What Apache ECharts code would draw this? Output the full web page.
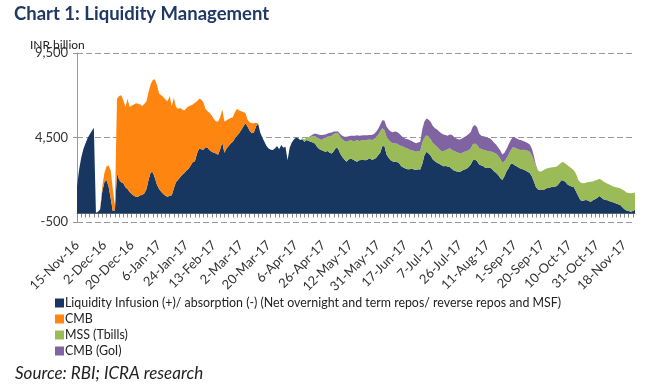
<!DOCTYPE html>
<html>
<head>
<meta charset="utf-8">
<script src="https://cdn.jsdelivr.net/npm/echarts@6/dist/echarts.min.js"></script>
<style>
html,body{margin:0;padding:0;background:#fff;}
#c{width:653px;height:390px;}
</style>
</head>
<body>
<div id="c"></div>
<script>
// Tick labels shown on the category axis (one every 13 observations)
var dateLabels = ['15-Nov-16','2-Dec-16','20-Dec-16','6-Jan-17','24-Jan-17','13-Feb-17','2-Mar-17','20-Mar-17','6-Apr-17','26-Apr-17','12-May-17','31-May-17','17-Jun-17','7-Jul-17','26-Jul-17','11-Aug-17','1-Sep-17','20-Sep-17','10-Oct-17','31-Oct-17','18-Nov-17'];
var labelStep = 13;

var seriesNames = ['Liquidity Infusion (+)/ absorption (-) (Net overnight and term repos/ reverse repos and MSF)','CMB','MSS (Tbills)','CMB (GoI)'];

// INR billion
var liquidity = [
1600,2600,3300,3800,4150,4450,4680,4880,5080,50,
100,250,1300,1850,1980,1600,900,150,200,2400,
2000,1850,1800,1550,1450,1280,1150,1050,990,1000,
1080,1100,1200,1450,2000,2450,2450,2100,1700,1450,
1290,1150,1050,990,1050,1080,1500,1850,2000,2150,
2300,2400,2550,2650,2850,3050,3100,3550,3850,3800,
3780,3920,3900,3750,3650,3600,3550,3480,3800,4200,
3600,3850,4000,4150,4250,4450,4600,4750,4950,5150,
5350,5150,4900,4750,4800,5150,5330,4800,4500,4250,
4000,3850,3780,3760,3850,4000,3800,4050,3900,3950,
3150,3900,4200,4380,4500,4450,4350,4400,4250,4350,
4300,4250,4200,4150,3950,3820,3760,3700,3650,3700,
3600,3560,3700,3900,3850,3550,3350,3200,3070,3200,
3260,3200,3120,3070,3150,3170,3170,3150,3200,3270,
3180,3220,3280,3450,3600,3980,4000,3500,3300,3150,
3080,3070,3050,2980,2800,2720,2670,2620,2620,2670,
2600,2570,2620,2600,2950,3450,3650,3550,3420,3200,
3100,3000,2950,2870,2800,2820,2780,2750,2650,2550,
2500,2470,2470,2550,2600,2650,2750,2900,3150,3200,
3100,2900,2850,2800,2700,2700,2720,2650,2500,2420,
2280,2100,1980,2200,2500,2700,2950,2950,2850,2780,
2700,2650,2600,2550,2480,2400,2200,1900,1550,1420,
1390,1400,1420,1490,1520,1560,1580,1590,1650,1800,
1970,1950,1870,1720,1650,1600,1560,1300,1050,800,
750,780,800,750,700,780,850,920,1040,950,
850,800,780,730,690,650,600,550,500,380,
250,180,150,100,150,220
];

var cmb = [
0,0,0,0,0,0,0,0,0,0,
0,0,300,550,800,1250,1650,1300,300,4400,
4950,5150,4900,4750,5350,5020,5250,5400,5530,5500,
5370,5260,5300,5200,5200,5200,5450,5850,5900,5650,
5710,5750,5700,5660,5900,5270,5350,4450,4200,4100,
3850,3700,3700,3700,3550,3400,3450,3100,2950,2950,
2820,2280,2150,2200,2150,2000,1900,1970,1900,1950,
1850,1650,1600,1500,1450,1550,1600,1350,1100,850,
600,400,500,600,550,230,0,0,0,0,
0,0,0,0,0,0,0,0,0,0,
0,0,0,0,0,0,0,0,0,0,
0,0,0,0,0,0,0,0,0,0,
0,0,0,0,0,0,0,0,0,0,
0,0,0,0,0,0,0,0,0,0,
0,0,0,0,0,0,0,0,0,0,
0,0,0,0,0,0,0,0,0,0,
0,0,0,0,0,0,0,0,0,0,
0,0,0,0,0,0,0,0,0,0,
0,0,0,0,0,0,0,0,0,0,
0,0,0,0,0,0,0,0,0,0,
0,0,0,0,0,0,0,0,0,0,
0,0,0,0,0,0,0,0,0,0,
0,0,0,0,0,0,0,0,0,0,
0,0,0,0,0,0,0,0,0,0,
0,0,0,0,0,0,0,0,0,0,
0,0,0,0,0,0,0,0,0,0,
0,0,0,0,0,0
];

var mss = [
0,0,0,0,0,0,0,0,0,0,
0,0,0,0,0,0,0,0,0,0,
0,0,0,0,0,0,0,0,0,0,
0,0,0,0,0,0,0,0,0,0,
0,0,0,0,0,0,0,0,0,0,
0,0,0,0,0,0,0,0,0,0,
0,0,0,0,0,0,0,0,0,0,
0,0,0,0,0,0,0,0,0,0,
0,0,0,0,0,0,0,0,0,0,
0,0,0,0,0,0,0,0,0,0,
0,0,0,0,0,0,0,50,150,150,
210,300,380,440,550,600,590,720,830,840,
960,1040,1000,860,900,1000,1050,1100,1180,1100,
1090,1100,1180,1280,1150,1150,1180,1180,1160,1110,
1170,1180,1240,1200,1250,1060,950,1050,1050,1080,
1080,1080,1080,1080,1200,1230,1230,1230,1150,1070,
1100,1090,1080,1100,1250,1050,990,1000,980,980,
950,950,850,830,880,930,1020,1110,1130,1150,
1150,1130,1090,1050,1050,1050,1000,950,950,950,
950,980,970,980,1050,1000,950,1000,1100,1140,
1140,1150,1020,900,770,800,800,980,1050,1050,
1070,1110,1180,1200,1240,1260,1250,1250,1200,1130,
1080,1120,1180,1170,1180,1160,1160,1170,1150,1100,
1030,1100,1080,1140,1100,1060,990,1050,950,1050,
1040,1020,1030,1110,1180,1120,1100,1070,1020,1050,
1050,1020,980,970,950,940,960,970,990,1040,
1100,1070,1060,1100,1070,1030
];

var cmbGoi = [
0,0,0,0,0,0,0,0,0,0,
0,0,0,0,0,0,0,0,0,0,
0,0,0,0,0,0,0,0,0,0,
0,0,0,0,0,0,0,0,0,0,
0,0,0,0,0,0,0,0,0,0,
0,0,0,0,0,0,0,0,0,0,
0,0,0,0,0,0,0,0,0,0,
0,0,0,0,0,0,0,0,0,0,
0,0,0,0,0,0,0,0,0,0,
0,0,0,0,0,0,0,0,0,0,
0,0,0,0,0,0,0,0,0,0,
0,50,100,150,200,250,300,250,200,200,
220,200,150,100,100,150,200,250,300,280,
250,300,300,280,300,300,280,300,280,270,
300,300,300,350,400,480,560,600,620,620,
650,700,700,680,600,550,520,550,580,550,
520,500,500,550,800,950,980,1000,1020,1000,
1000,1020,1050,1050,1000,900,800,820,880,850,
800,800,820,850,880,900,950,980,1050,1090,
1050,850,780,790,800,790,780,700,600,520,
490,500,490,500,550,580,600,600,600,600,
590,570,520,480,450,420,400,250,100,0,
0,0,0,0,0,0,0,0,0,0,
0,0,0,0,0,0,0,0,0,0,
0,0,0,0,0,0,0,0,0,0,
0,0,0,0,0,0,0,0,0,0,
0,0,0,0,0,0
];

var yMin = -500, yMax = 9500, yStep = 5000;
var colors = ['#183760','#FF8511','#9BBB59','#8064A2'];

var categories = liquidity.map(function(_, i){
  return (i % labelStep === 0 && dateLabels[i / labelStep]) ? dateLabels[i / labelStep] : ('d' + i);
});

var font = 'Lato, "Noto Sans", sans-serif';
var chart = echarts.init(document.getElementById('c'), null, {renderer:'canvas'});

function mk(name, data, color){
  return {
    name: name, type: 'line', stack: 'total', data: data,
    symbol: 'none', showSymbol: false, smooth: false,
    lineStyle: {width: 0, color: color},
    areaStyle: {color: color, opacity: 1},
    itemStyle: {color: color},
    emphasis: {disabled: true},
    animation: false
  };
}

chart.setOption({
  animation: false,
  color: colors,
  title: [
    {text: 'Chart 1: Liquidity Management', left: 9, top: 0,
     textStyle: {fontFamily: font, fontSize: 18.5, fontWeight: 'bold', color: '#1F3864'}},
    {text: 'INR billion', left: 25, top: 34,
     textStyle: {fontFamily: font, fontSize: 12, fontWeight: 'normal', color: '#222'}},
    {text: 'Source: RBI; ICRA research', left: 10, top: 360,
     textStyle: {fontFamily: font, fontSize: 17, fontWeight: 'normal', fontStyle: 'italic', color: '#222'}}
  ],
  legend: {
    orient: 'vertical', left: 50, top: 290, itemWidth: 9, itemHeight: 9, itemGap: 0,
    icon: 'rect',
    textStyle: {fontFamily: font, fontSize: 12.4, color: '#222', lineHeight: 16, padding: [0,0,0,-4]},
    data: seriesNames
  },
  grid: {left: 77, right: 18, top: 53, bottom: 168, containLabel: false},
  xAxis: {
    type: 'category', data: categories, boundaryGap: false,
    axisLine: {show: true, onZero: true, lineStyle: {color: '#8a8a8a'}},
    axisTick: {show: true, interval: 1, length: 4, lineStyle: {color: '#8a8a8a'}},
    axisLabel: {interval: labelStep - 1, rotate: 45, margin: 21,
      fontFamily: font, fontSize: 13, color: '#333'},
    splitLine: {show: false}
  },
  yAxis: {
    type: 'value', min: yMin, max: yMax, interval: yStep,
    axisLine: {show: true, lineStyle: {color: '#999'}},
    axisTick: {show: true, length: 4, lineStyle: {color: '#999'}},
    axisLabel: {margin: 9, fontFamily: font, fontSize: 13, color: '#333',
      formatter: function(v){ return v.toLocaleString('en-US'); }},
    splitLine: {show: true, lineStyle: {color: '#9a9a9a', type: [6,3], width: 1}}
  },
  series: [
    mk(seriesNames[0], liquidity, colors[0]),
    mk(seriesNames[1], cmb, colors[1]),
    mk(seriesNames[2], mss, colors[2]),
    mk(seriesNames[3], cmbGoi, colors[3])
  ]
});
</script>
</body>
</html>
